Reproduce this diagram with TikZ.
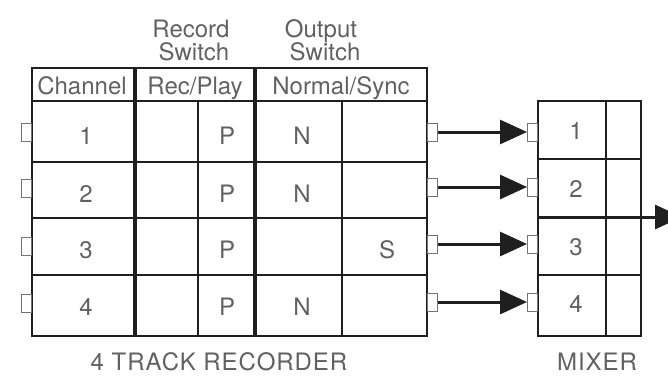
\documentclass[tikz,border=0pt]{standalone}
\usepackage{fontspec}
\setmainfont{TeX Gyre Heros}
\usetikzlibrary{arrows.meta}
\definecolor{txt}{gray}{0.38}
\definecolor{ink}{gray}{0.12}
\begin{document}
\begin{tikzpicture}[x=1pt,y=-1pt,
  gridline/.style={line width=1.8pt, draw=ink},
  boldline/.style={line width=4pt, draw=ink},
  lbl/.style={font=\fontsize{24}{26}\selectfont, text=txt, inner sep=0pt, anchor=base},
  caption/.style={lbl, font=\fontsize{24}{26}\selectfont\addfontfeature{LetterSpace=4}},
  jack/.style={draw=black!55, line width=1pt, minimum width=10pt, minimum height=18pt, inner sep=0pt, fill=white},
  sig/.style={line width=3pt, draw=ink, -{Triangle[length=27pt,width=24pt]}}
]
\useasboundingbox (0,0) rectangle (668,376);
\clip (0,0) rectangle (668,376);

% ---------- recorder grid ----------
\draw[gridline] (32,68) rectangle (427,336);
\draw[gridline] (32,101) -- (427,101);
\draw[gridline] (32,162) -- (427,162);
\draw[gridline] (32,218) -- (427,218);
\draw[gridline] (32,275) -- (427,275);
\draw[gridline] (198,101) -- (198,336);
\draw[gridline] (342,101) -- (342,336);
\draw[boldline] (135,68) -- (135,336);
\draw[boldline] (255,68) -- (255,336);

% ---------- headings ----------
\node[lbl] (rec1) at (191,37) {Record};
\node[lbl] (rec2) at (194,60) {Switch};
\node[lbl] (out1) at (321,37) {Output};
\node[lbl] (out2) at (325,60) {Switch};
\node[lbl] (hch) at (82,94) {Channel};
\node[lbl] (hrp) at (195,94) {Rec/Play};
\node[lbl] (hns) at (341,94) {Normal/Sync};

% ---------- recorder cells ----------
\node[lbl] (c1) at (86,144) {1};
\node[lbl] (c2) at (86,202) {2};
\node[lbl] (c3) at (86,258) {3};
\node[lbl] (c4) at (86,315) {4};
\node[lbl] (p1) at (227,144) {P};
\node[lbl] (p2) at (227,202) {P};
\node[lbl] (p3) at (227,258) {P};
\node[lbl] (p4) at (227,315) {P};
\node[lbl] (n1) at (302,144) {N};
\node[lbl] (n2) at (302,202) {N};
\node[lbl] (s3) at (387,258) {S};
\node[lbl] (n4) at (302,315) {N};

\node[caption] (reclabel) at (219,370) {4 TRACK RECORDER};

% ---------- recorder jacks ----------
\node[jack, anchor=east] (lj1) at (32,132) {};
\node[jack, anchor=east] (lj2) at (32,188) {};
\node[jack, anchor=east] (lj3) at (32,246) {};
\node[jack, anchor=east] (lj4) at (32,303) {};
\node[jack, anchor=west] (rj1) at (427,132) {};
\node[jack, anchor=west] (rj2) at (427,187) {};
\node[jack, anchor=west] (rj3) at (427,244) {};
\node[jack, anchor=west] (rj4) at (427,302) {};

% ---------- mixer grid ----------
\draw[gridline] (538,101) rectangle (641,336);
\draw[gridline] (538,159) -- (641,159);
\draw[gridline] (538,275) -- (641,275);
\draw[gridline] (606,101) -- (606,336);
\coordinate (mixmid) at (538,217);
\coordinate (outend) at (682,217);
\draw[sig] (mixmid) -- (outend);

\node[lbl] (m1) at (576,139) {1};
\node[lbl] (m2) at (576,197) {2};
\node[lbl] (m3) at (576,255) {3};
\node[lbl] (m4) at (576,312) {4};
\node[caption] (mixlabel) at (597,370) {MIXER};

% ---------- mixer jacks ----------
\node[jack, anchor=east] (mj1) at (538,132) {};
\node[jack, anchor=east] (mj2) at (538,187) {};
\node[jack, anchor=east] (mj3) at (538,244) {};
\node[jack, anchor=east] (mj4) at (538,302) {};

% ---------- signal arrows ----------
\draw[sig] (rj1.east) -- (mj1.west);
\draw[sig] (rj2.east) -- (mj2.west);
\draw[sig] (rj3.east) -- (mj3.west);
\draw[sig] (rj4.east) -- (mj4.west);
\end{tikzpicture}
\end{document}
